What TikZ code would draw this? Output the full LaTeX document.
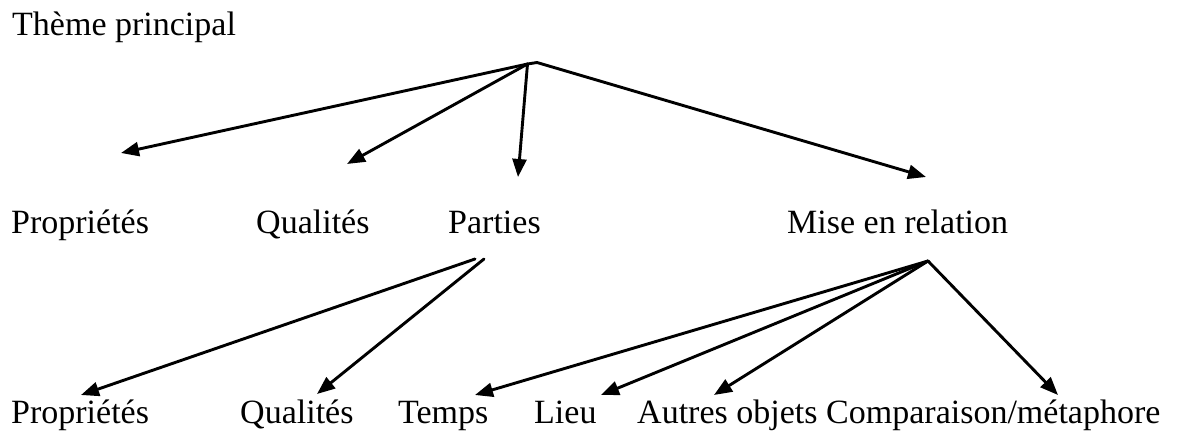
\documentclass[tikz,border=0pt]{standalone}
\usepackage{fontspec}
\setmainfont{Liberation Serif}
\usetikzlibrary{arrows.meta}
\begin{document}
\begin{tikzpicture}[x=1pt,y=-1pt,
  lbl/.style={anchor=base west, inner sep=0pt, font=\fontsize{34}{40}\selectfont},
  link/.style={line width=2.9pt, line cap=round},
  arr/.style={link, -{Triangle[length=18pt,width=14pt]}}]
\useasboundingbox (0,0) rectangle (1181,433);
% labels
\node[lbl] (theme) at (12,36) {Thème principal};
\node[lbl] (prop1) at (11,233) {Propriétés};
\node[lbl] (qual1) at (256,233) {Qualités};
\node[lbl] (part)  at (448,233) {Parties};
\node[lbl] (mise)  at (787,233) {Mise en relation};
\node[lbl] (prop2) at (11,423) {Propriétés};
\node[lbl] (qual2) at (240,423) {Qualités};
\node[lbl] (temps) at (398,423) {Temps};
\node[lbl] (lieu)  at (534,423) {Lieu};
\node[lbl] (autres) at (637,423) {Autres objets};
\node[lbl] (comp)  at (826,423) {Comparaison/métaphore};
% junctions
\coordinate (j0) at (527.5,64);
\coordinate (j0r) at (537,62.5);
\coordinate (jpl) at (475,259);
\coordinate (jpr) at (484,259);
\coordinate (jm) at (928,261);
% arrow tips
\coordinate (tprop1) at (121,153);
\coordinate (tqual1) at (347,164);
\coordinate (tpart) at (518,177);
\coordinate (tmise) at (926,177);
\coordinate (tprop2) at (81,395);
\coordinate (tqual2) at (317,394);
\coordinate (ttemps) at (475,395);
\coordinate (tlieu) at (601,395);
\coordinate (tautres) at (714,395);
\coordinate (tcomp) at (1058,395);
% connectors
\draw[arr] (j0) -- (tprop1);
\draw[arr] (j0) -- (tqual1);
\draw[arr] (j0) -- (tpart);
\draw[link] (j0) -- (j0r);
\draw[arr] (j0r) -- (tmise);
\draw[arr] (jpl) -- (tprop2);
\draw[arr] (jpr) -- (tqual2);
\draw[arr] (jm) -- (ttemps);
\draw[arr] (jm) -- (tlieu);
\draw[arr] (jm) -- (tautres);
\draw[arr] (jm) -- (tcomp);
\end{tikzpicture}
\end{document}
